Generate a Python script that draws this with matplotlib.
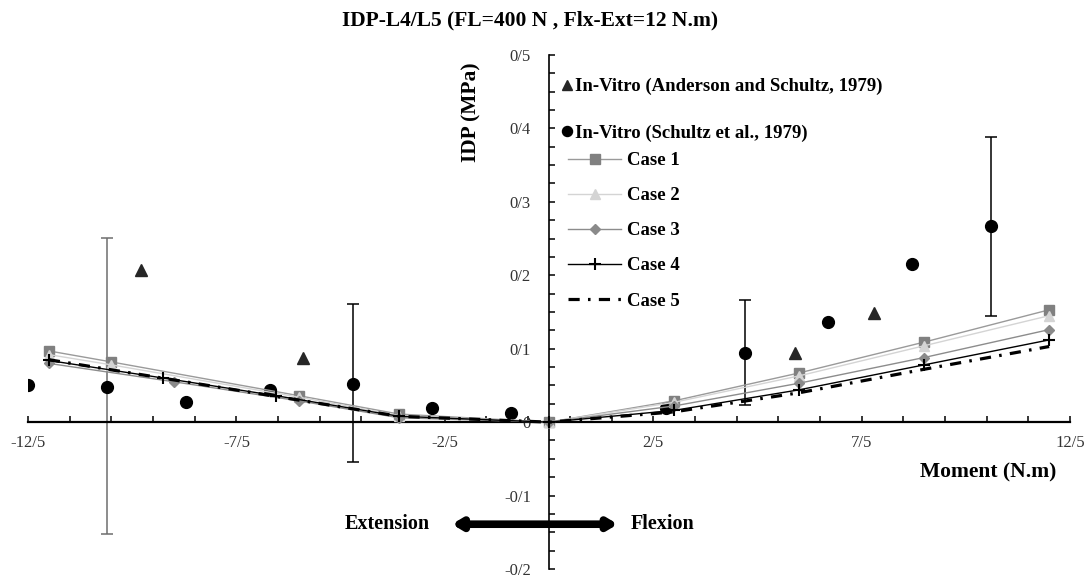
import numpy as np
import matplotlib.pyplot as plt
from matplotlib.ticker import FixedLocator, FuncFormatter, MultipleLocator

plt.rcParams['font.family'] = ['Liberation Serif', 'DejaVu Serif']

# experimental data
and_x = [-9.8, -5.9, 5.9, 7.8]
and_y = [0.207, 0.087, 0.094, 0.149]

sch_x = [-12.5, -10.6, -8.7, -6.7, -4.7, -2.8, -0.9, 2.8, 4.7, 6.7, 8.7, 10.6]
sch_y = [0.051, 0.048, 0.027, 0.044, 0.052, 0.019, 0.013, 0.019, 0.094, 0.137, 0.215, 0.267]

# error bars on some Schultz points (top / bottom of the bar)
err_x = [-10.6, -4.7, 4.7, 10.6]
err_y = [0.048, 0.052, 0.094, 0.267]
err_top = [0.251, 0.161, 0.166, 0.389]
err_bot = [-0.153, -0.054, 0.024, 0.145]
err_col = ['#6e6e6e', 'black', 'black', 'black']

# model cases
case1_x = [-12, -10.5, -6, -3.6, 0, 3, 6, 9, 12]
case1_y = [0.097, 0.082, 0.036, 0.011, 0, 0.029, 0.067, 0.109, 0.153]
case2_x = [-12, -10.5, -6, -3.6, 0, 3, 6, 9, 12]
case2_y = [0.092, 0.078, 0.034, 0.009, 0, 0.027, 0.063, 0.104, 0.145]
case3_x = [-12, -9, -6, -3.6, 0, 3, 6, 9, 12]
case3_y = [0.080, 0.055, 0.029, 0.006, 0, 0.022, 0.053, 0.088, 0.126]
case4_x = [-12, -9.25, -6.55, -3.6, 0, 3, 6, 9, 12]
case4_y = [0.084, 0.060, 0.036, 0.008, 0, 0.016, 0.044, 0.078, 0.112]
case5_x = [-12, -3.6, 0, 3, 6, 9, 12]
case5_y = [0.085, 0.008, 0, 0.014, 0.040, 0.072, 0.103]

x_major = [-12.5, -7.5, -2.5, 2.5, 7.5, 12.5]


def fmt(v, pos=None):
    if abs(v) < 1e-9:
        return "0"
    s = f"{v:.1f}".rstrip('0').rstrip('.')
    return s.replace('.', '/')


fig = plt.figure(figsize=(10.89, 5.77), dpi=100)
ax = fig.add_axes([28 / 1089, 1 - 569 / 577, (1070 - 28) / 1089, (569 - 55) / 577])
ax.set_xlim(-12.5, 12.5)
ax.set_ylim(-0.2, 0.5)

for s in ['top', 'right']:
    ax.spines[s].set_visible(False)
ax.spines['left'].set_position(('data', 0))
ax.spines['bottom'].set_position(('data', 0))
ax.spines['bottom'].set_linewidth(1.6)
ax.spines['left'].set_linewidth(1.2)

ax.xaxis.set_major_locator(FixedLocator(x_major))
ax.xaxis.set_minor_locator(FixedLocator([v for v in np.arange(-12.5, 13, 1.0) if v not in x_major]))
ax.yaxis.set_major_locator(MultipleLocator(0.1))
ax.yaxis.set_minor_locator(MultipleLocator(0.025))
ax.xaxis.set_major_formatter(FuncFormatter(fmt))
ax.yaxis.set_major_formatter(FuncFormatter(fmt))
ax.tick_params(which='both', direction='in', length=4, width=1.1, labelsize=12,
               labelcolor='#333333')
ax.tick_params(axis='x', pad=9.5)
ax.tick_params(axis='y', pad=13)

# error bars
for i in range(len(err_x)):
    ax.errorbar([err_x[i]], [err_y[i]],
                yerr=[[err_y[i] - err_bot[i]], [err_top[i] - err_y[i]]],
                fmt='none', ecolor=err_col[i], elinewidth=1.1, capsize=4.5, capthick=1.1,
                zorder=2)

h_and, = ax.plot(and_x, and_y, '^', color='#262626', ms=8, ls='none', zorder=3,
                 label='In-Vitro (Anderson and Schultz, 1979)')
h_sch, = ax.plot(sch_x, sch_y, 'o', color='black', ms=8.5, ls='none', zorder=3,
                 label='In-Vitro (Schultz et al., 1979)')

h1, = ax.plot(case1_x, case1_y, color='#9a9a9a', lw=1, marker='s', ms=7,
              mfc='#808080', mec='#808080', zorder=4, label='Case 1')
h2, = ax.plot(case2_x, case2_y, color='#d4d4d4', lw=1, marker='^', ms=7,
              mfc='#d4d4d4', mec='#d4d4d4', zorder=4, label='Case 2')
h3, = ax.plot(case3_x, case3_y, color='#8c8c8c', lw=1, marker='D', ms=5,
              mfc='#8a8a8a', mec='#8a8a8a', zorder=4, label='Case 3')
h4, = ax.plot(case4_x, case4_y, color='black', lw=1, marker='+', ms=8, mew=1.5,
              zorder=5, label='Case 4')
h5, = ax.plot(case5_x, case5_y, color='black', lw=2.3, ls=(0, (3.5, 2.6, 0.8, 2.6)),
              zorder=5, label='Case 5')

leg1 = ax.legend(handles=[h_and, h_sch], loc='upper left',
                 bbox_to_anchor=(561 / 1089, 1 - 78 / 577), bbox_transform=fig.transFigure,
                 frameon=False, handlelength=0.6, handletextpad=0.15, labelspacing=1.55,
                 borderpad=0, borderaxespad=0, markerscale=0.85,
                 prop={'weight': 'bold', 'size': 13.5})
ax.add_artist(leg1)
ax.legend(handles=[h1, h2, h3, h4, h5], loc='upper left',
          bbox_to_anchor=(568 / 1089, 1 - 152 / 577), bbox_transform=fig.transFigure,
          frameon=False, handlelength=2.83, handletextpad=0.3, labelspacing=0.96,
          borderpad=0, borderaxespad=0, prop={'weight': 'bold', 'size': 13.5})

# flexion / extension arrow
ax.annotate('', xy=(1.65, -0.139), xytext=(-2.33, -0.139),
            arrowprops=dict(arrowstyle='<|-|>,head_length=0.5,head_width=0.3', lw=5.5,
                            color='black', shrinkA=0, shrinkB=0))
ax.text(-2.85, -0.139, 'Extension', ha='right', va='center', fontsize=14.5, fontweight='bold')
ax.text(1.95, -0.139, 'Flexion', ha='left', va='center', fontsize=14.5, fontweight='bold')

fig.text(530 / 1089, 1 - 20 / 577, 'IDP-L4/L5 (FL=400 N , Flx-Ext=12 N.m)',
         ha='center', va='center', fontsize=15.5, fontweight='bold')
fig.text(471 / 1089, 1 - 112 / 577, 'IDP (MPa)', rotation=90, ha='center', va='center',
         fontsize=15.5, fontweight='bold')
fig.text(988 / 1089, 1 - 472 / 577, 'Moment (N.m)', ha='center', va='center',
         fontsize=15.5, fontweight='bold')

fig.savefig('out.png', dpi=100)
